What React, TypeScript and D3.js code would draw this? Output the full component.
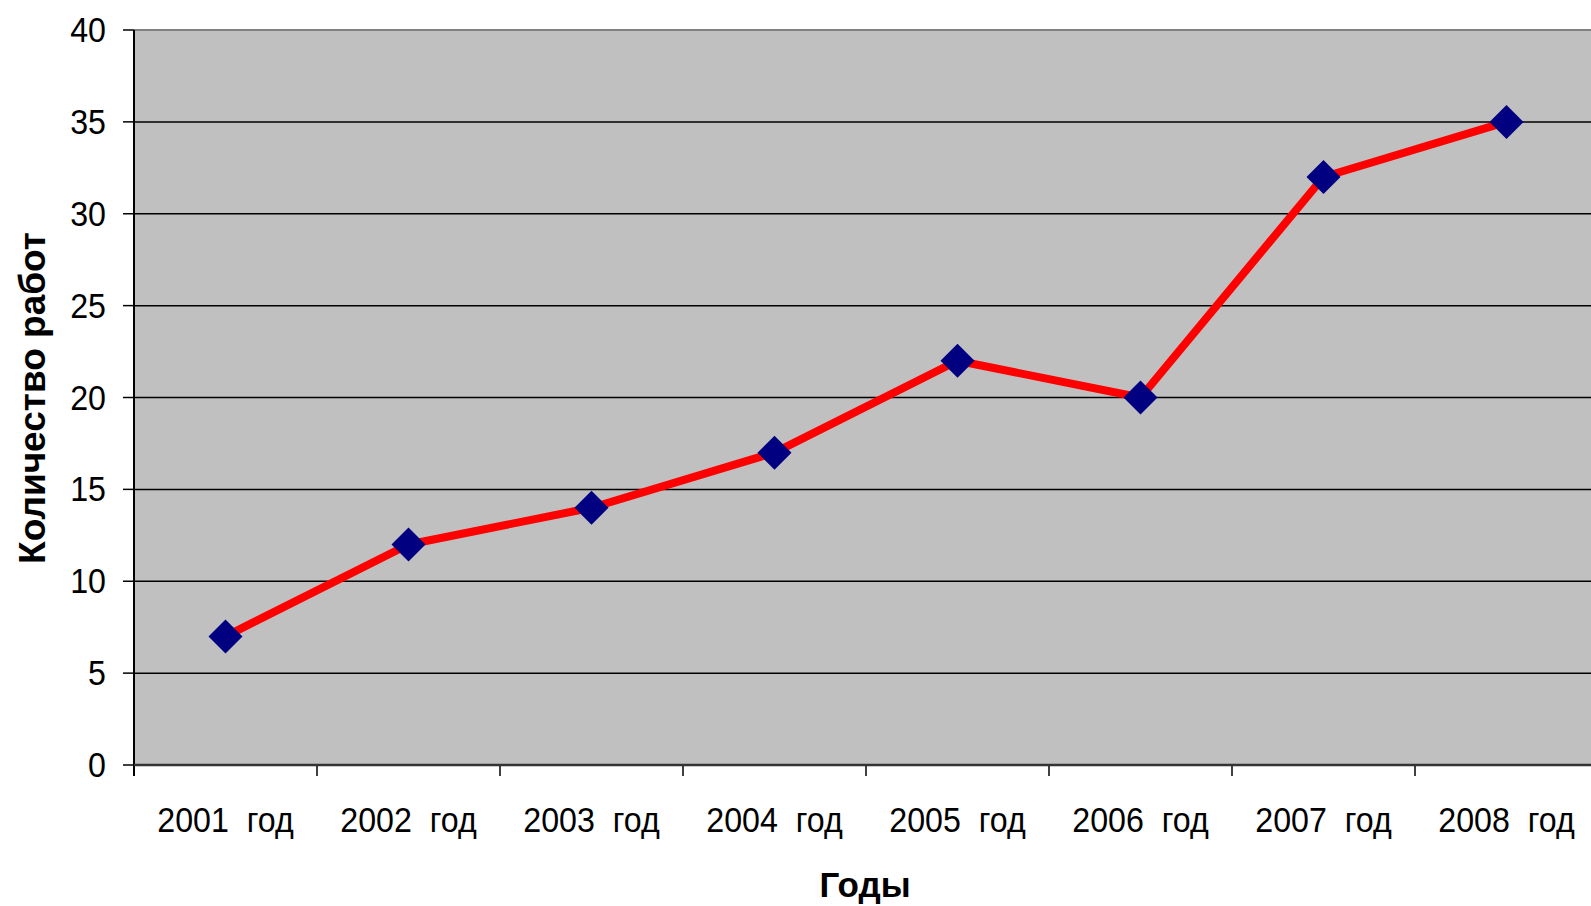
import React from "react";
import * as d3 from "d3";

const categories = ["2001  год", "2002  год", "2003  год", "2004  год", "2005  год", "2006  год", "2007  год", "2008  год"];
const values = [7, 12, 14, 17, 22, 20, 32, 35];
const yTicks = [0, 5, 10, 15, 20, 25, 30, 35, 40];
const yTitle = "Количество работ";
const xTitle = "Годы";

const W = 1591;
const H = 906;
const left = 134;
const right = 1598;
const top = 30;
const bottom = 765;

export default function App() {
  const x = d3.scaleBand<string>().domain(categories).range([left, right]).padding(0);
  const y = d3.scaleLinear().domain([0, 40]).range([bottom, top]);
  const cx = (c: string) => (x(c) as number) + x.bandwidth() / 2;
  const line = d3
    .line<number>()
    .x((_, i) => cx(categories[i]))
    .y((d) => y(d));
  const font = "'Liberation Sans', Arial, sans-serif";
  const r = 17;
  const bounds = [...categories.map((c) => x(c) as number), right];

  return (
    <svg width={W} height={H} style={{ position: "absolute", left: 0, top: 0, background: "#fff" }}>
      <rect x={left} y={top} width={right - left} height={bottom - top} fill="#C0C0C0" />
      <line x1={left} x2={right} y1={top} y2={top} stroke="#808080" strokeWidth={2} />
      {yTicks.filter((t) => t > 0 && t < 40).map((t) => (
        <line key={t} x1={left} x2={right} y1={y(t)} y2={y(t)} stroke="#000" strokeWidth={1.5} />
      ))}
      {yTicks.map((t) => (
        <line key={"tk" + t} x1={left - 11} x2={left} y1={y(t)} y2={y(t)} stroke="#000" strokeWidth={1.5} />
      ))}
      {yTicks.map((t) => (
        <text
          key={"tl" + t}
          transform={`translate(106,${y(t) + 12}) scale(0.92,1)`}
          textAnchor="end"
          fontFamily={font}
          fontSize={35}
          fill="#000"
        >
          {t}
        </text>
      ))}
      {bounds.map((b, i) => (
        <line key={"xt" + i} x1={b} x2={b} y1={bottom} y2={bottom + 11} stroke="#000" strokeWidth={1.5} />
      ))}
      <line x1={left} x2={left} y1={top} y2={bottom + 11} stroke="#000" strokeWidth={2} />
      <line x1={left} x2={right} y1={bottom} y2={bottom} stroke="#333" strokeWidth={2.5} />
      {categories.map((c) => (
        <text
          key={c}
          transform={`translate(${cx(c)},832) scale(0.92,1)`}
          textAnchor="middle"
          fontFamily={font}
          fontSize={35}
          fill="#000"
          style={{ whiteSpace: "pre" }}
        >
          {c}
        </text>
      ))}
      <path d={line(values) || ""} fill="none" stroke="#FF0000" strokeWidth={8} strokeLinejoin="round" />
      {values.map((v, i) => (
        <path
          key={i}
          d={`M${cx(categories[i])},${y(v) - r} L${cx(categories[i]) + r},${y(v)} L${cx(categories[i])},${y(v) + r} L${cx(categories[i]) - r},${y(v)} Z`}
          fill="#000080"
        />
      ))}
      <text
        transform={`translate(45,398) rotate(-90)`}
        textAnchor="middle"
        fontFamily={font}
        fontWeight="bold"
        fontSize={37}
        fill="#000"
      >
        {yTitle}
      </text>
      <text x={865} y={897} textAnchor="middle" fontFamily={font} fontWeight="bold" fontSize={35} fill="#000">
        {xTitle}
      </text>
    </svg>
  );
}
